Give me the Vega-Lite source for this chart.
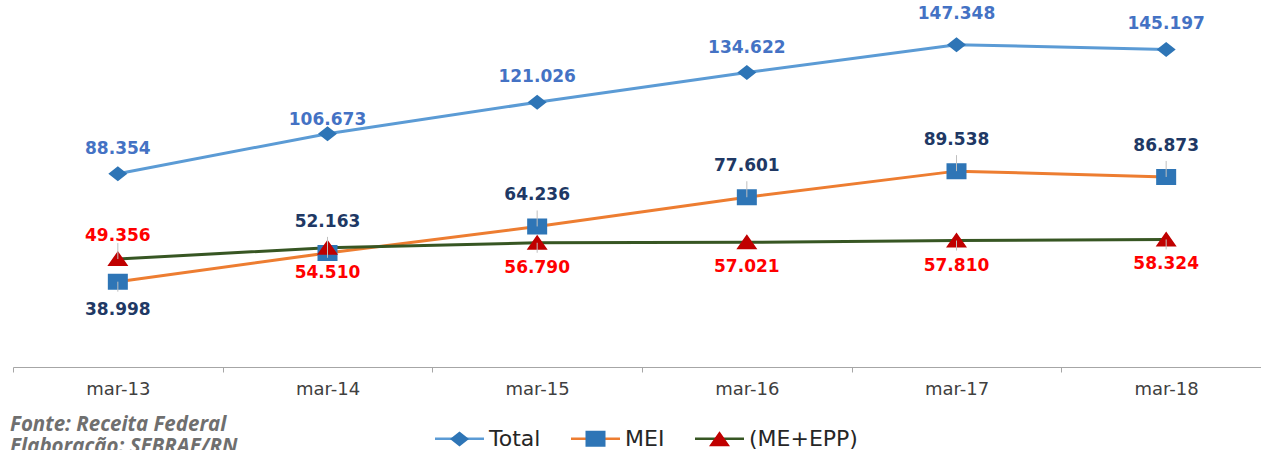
{
  "$schema": "https://vega.github.io/schema/vega-lite/v6.json",
  "width": 1248,
  "height": 350,
  "autosize": {"type": "none"},
  "padding": {"left": 13, "top": 17, "right": 0, "bottom": 83},
  "config": {
    "view": {"stroke": null},
    "locale": {"number": {"decimal": ",", "thousands": ".", "grouping": [3], "currency": ["R$", ""]}}
  },
  "title": {
    "text": ["Fonte: Receita Federal", "Elaboração: SEBRAE/RN"],
    "orient": "bottom",
    "anchor": "start",
    "frame": "group",
    "font": "Open Sans",
    "fontSize": 20.5,
    "fontWeight": "bold",
    "fontStyle": "italic",
    "color": "#6F6F6F",
    "lineHeight": 22,
    "offset": 18,
    "dx": -3,
    "dy": -55
  },
  "data": {
    "values": [
      {"mes": "mar-13", "serie": "Total", "valor": 88354},
      {"mes": "mar-14", "serie": "Total", "valor": 106673},
      {"mes": "mar-15", "serie": "Total", "valor": 121026},
      {"mes": "mar-16", "serie": "Total", "valor": 134622},
      {"mes": "mar-17", "serie": "Total", "valor": 147348},
      {"mes": "mar-18", "serie": "Total", "valor": 145197},
      {"mes": "mar-13", "serie": "MEI", "valor": 38998},
      {"mes": "mar-14", "serie": "MEI", "valor": 52163},
      {"mes": "mar-15", "serie": "MEI", "valor": 64236},
      {"mes": "mar-16", "serie": "MEI", "valor": 77601},
      {"mes": "mar-17", "serie": "MEI", "valor": 89538},
      {"mes": "mar-18", "serie": "MEI", "valor": 86873},
      {"mes": "mar-13", "serie": "(ME+EPP)", "valor": 49356},
      {"mes": "mar-14", "serie": "(ME+EPP)", "valor": 54510},
      {"mes": "mar-15", "serie": "(ME+EPP)", "valor": 56790},
      {"mes": "mar-16", "serie": "(ME+EPP)", "valor": 57021},
      {"mes": "mar-17", "serie": "(ME+EPP)", "valor": 57810},
      {"mes": "mar-18", "serie": "(ME+EPP)", "valor": 58324}
    ]
  },
  "encoding": {
    "x": {
      "field": "mes",
      "type": "ordinal",
      "sort": null,
      "title": null,
      "scale": {"type": "band", "paddingInner": 0, "paddingOuter": 0, "range": [0, 1258]},
      "axis": {
        "domainColor": "#A6A6A6",
        "tickColor": "#A6A6A6",
        "tickBand": "extent",
        "tickSize": 5,
        "labelFont": "DejaVu Sans",
        "labelFontSize": 18,
        "labelColor": "#404040",
        "labelPadding": 8,
        "labelAngle": 0,
        "grid": false
      }
    },
    "y": {
      "field": "valor",
      "type": "quantitative",
      "scale": {"domain": [0, 160000]},
      "axis": null
    }
  },
  "layer": [
    {
      "mark": {"type": "line", "strokeWidth": 3},
      "encoding": {
        "color": {
          "field": "serie",
          "type": "nominal",
          "scale": {"domain": ["Total", "MEI", "(ME+EPP)"], "range": ["#5B9BD5", "#ED7D31", "#375623"]},
          "legend": {
            "orient": "none",
            "legendX": 435,
            "legendY": 410,
            "direction": "horizontal",
            "title": null,
            "symbolType": "M-2.45,0H2.45",
            "symbolSize": 400,
            "symbolStrokeWidth": 2.5,
            "labelFont": "DejaVu Sans",
            "labelFontSize": 22,
            "labelColor": "#262626",
            "labelOffset": 18,
            "columnPadding": 25
          }
        }
      }
    },
    {
      "mark": {"type": "point", "filled": true, "opacity": 1, "size": 400, "strokeWidth": 0},
      "encoding": {
        "shape": {
          "field": "serie",
          "type": "nominal",
          "scale": {
            "domain": ["MEI", "Total", "(ME+EPP)"],
            "range": ["M-2.45,0H2.45M-1,-0.8H1V0.8H-1Z", "M-2.45,0H2.45M-0.95,0L0,-0.75L0.95,0L0,0.75Z", "M-2.45,0H2.45M0,-0.8L1.05,0.7H-1.05Z"]
          },
          "legend": {
            "orient": "none",
            "legendX": 435,
            "legendY": 410,
            "direction": "horizontal",
            "title": null,
            "values": ["Total", "MEI", "(ME+EPP)"],
            "symbolSize": 400,
            "symbolStrokeWidth": 2.5,
            "symbolStrokeColor": "transparent",
            "labelFont": "DejaVu Sans",
            "labelFontSize": 22,
            "labelColor": "#262626",
            "labelOpacity": 0,
            "labelOffset": 18,
            "columnPadding": 25,
            "zindex": 2
          }
        },
        "fill": {
          "field": "serie",
          "type": "nominal",
          "scale": {"domain": ["MEI", "Total", "(ME+EPP)"], "range": ["#2E75B6", "#2E75B6", "#C00000"]},
          "legend": {
            "orient": "none",
            "legendX": 435,
            "legendY": 410,
            "direction": "horizontal",
            "title": null,
            "values": ["Total", "MEI", "(ME+EPP)"],
            "symbolSize": 400,
            "symbolStrokeWidth": 2.5,
            "symbolStrokeColor": "transparent",
            "labelFont": "DejaVu Sans",
            "labelFontSize": 22,
            "labelColor": "#262626",
            "labelOpacity": 0,
            "labelOffset": 18,
            "columnPadding": 25,
            "zindex": 2
          }
        }
      }
    },
    {
      "transform": [{"filter": "(datum.serie === 'MEI' && datum.mes !== 'mar-13') || (datum.serie === '(ME+EPP)' && datum.mes === 'mar-13')"}],
      "mark": {"type": "rule", "color": "#BFBFBF", "strokeWidth": 1, "yOffset": -16, "y2Offset": 0},
      "encoding": {"y2": {"field": "valor"}}
    },
    {
      "transform": [{"filter": "(datum.serie === 'MEI' && datum.mes === 'mar-13') || (datum.serie === '(ME+EPP)' && datum.mes !== 'mar-13' && datum.mes !== 'mar-16')"}],
      "mark": {"type": "rule", "color": "#BFBFBF", "strokeWidth": 1, "yOffset": 0, "y2Offset": 10},
      "encoding": {"y2": {"field": "valor"}}
    },
    {
      "transform": [{"filter": "datum.serie === 'Total' && datum.mes !== 'mar-14' && datum.mes !== 'mar-17'"}],
      "mark": {"type": "text", "dy": -25, "font": "DejaVu Sans", "fontSize": 17, "fontWeight": "bold", "color": "#4472C4"},
      "encoding": {"text": {"field": "valor", "type": "quantitative", "format": ",d"}}
    },
    {
      "transform": [{"filter": "datum.serie === 'Total' && datum.mes === 'mar-14'"}],
      "mark": {"type": "text", "dy": -14, "font": "DejaVu Sans", "fontSize": 17, "fontWeight": "bold", "color": "#4472C4"},
      "encoding": {"text": {"field": "valor", "type": "quantitative", "format": ",d"}}
    },
    {
      "transform": [{"filter": "datum.serie === 'Total' && datum.mes === 'mar-17'"}],
      "mark": {"type": "text", "dy": -31, "font": "DejaVu Sans", "fontSize": 17, "fontWeight": "bold", "color": "#4472C4"},
      "encoding": {"text": {"field": "valor", "type": "quantitative", "format": ",d"}}
    },
    {
      "transform": [{"filter": "datum.serie === 'MEI' && datum.mes !== 'mar-13'"}],
      "mark": {"type": "text", "dy": -31, "font": "DejaVu Sans", "fontSize": 17, "fontWeight": "bold", "color": "#203864"},
      "encoding": {"text": {"field": "valor", "type": "quantitative", "format": ",d"}}
    },
    {
      "transform": [{"filter": "datum.serie === 'MEI' && datum.mes === 'mar-13'"}],
      "mark": {"type": "text", "dy": 28, "font": "DejaVu Sans", "fontSize": 17, "fontWeight": "bold", "color": "#203864"},
      "encoding": {"text": {"field": "valor", "type": "quantitative", "format": ",d"}}
    },
    {
      "transform": [{"filter": "datum.serie === '(ME+EPP)' && datum.mes !== 'mar-13'"}],
      "mark": {"type": "text", "dy": 25, "font": "DejaVu Sans", "fontSize": 17, "fontWeight": "bold", "color": "#FF0000"},
      "encoding": {"text": {"field": "valor", "type": "quantitative", "format": ",d"}}
    },
    {
      "transform": [{"filter": "datum.serie === '(ME+EPP)' && datum.mes === 'mar-13'"}],
      "mark": {"type": "text", "dy": -23, "font": "DejaVu Sans", "fontSize": 17, "fontWeight": "bold", "color": "#FF0000"},
      "encoding": {"text": {"field": "valor", "type": "quantitative", "format": ",d"}}
    }
  ]
}
